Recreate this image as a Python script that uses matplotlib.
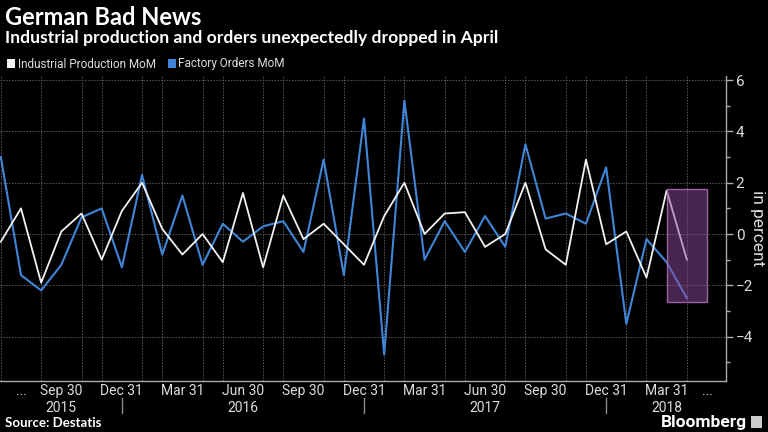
import matplotlib.pyplot as plt
from matplotlib import font_manager
from matplotlib.patches import Patch, Rectangle
from matplotlib.transforms import blended_transform_factory

# monthly % change, Jun 2015 .. Apr 2018
months = list(range(35))
industrial_production = [-0.3, 1.0, -1.9, 0.1, 0.8, -1.0, 0.9, 2.0, 0.2, -0.8,
                         0.0, -1.1, 1.6, -1.3, 1.5, -0.2, 0.4, -0.4, -1.2, 0.7,
                         2.0, 0.0, 0.8, 0.85, -0.5, 0.0, 2.0, -0.6, -1.2, 2.9,
                         -0.4, 0.1, -1.7, 1.7, -1.0]
factory_orders = [3.0, -1.6, -2.2, -1.2, 0.65, 1.0, -1.3, 2.3, -0.8, 1.5,
                  -1.2, 0.4, -0.3, 0.3, 0.5, -0.7, 2.9, -1.6, 4.5, -4.7,
                  5.2, -1.0, 0.5, -0.7, 0.7, -0.5, 3.5, 0.6, 0.8, 0.4,
                  2.6, -3.5, -0.2, -1.1, -2.5]

tick_pos = [1, 3, 6, 9, 12, 15, 18, 21, 24, 27, 30, 33, 35]
tick_labels = ["...", "Sep 30", "Dec 31", "Mar 31", "Jun 30", "Sep 30", "Dec 31",
               "Mar 31", "Jun 30", "Sep 30", "Dec 31", "Mar 31", "..."]
year_pos = [3, 12, 24, 33]
year_labels = ["2015", "2016", "2017", "2018"]
year_breaks = [6, 18, 30]
highlight = (33, 35, -2.65, 1.75)  # x0, x1, y0, y1


def pick(*names):
    have = {f.name for f in font_manager.fontManager.ttflist}
    return [n for n in names if n in have] + ["DejaVu Sans"]


narrow = pick("Liberation Sans Narrow", "Roboto", "Liberation Sans")
bold = pick("Lato", "Open Sans")

WHITE = "#f2f2f2"
BLUE = "#3f86d8"
GRID = "#5a5a5a"

fig = plt.figure(figsize=(7.68, 4.32), dpi=100, facecolor="black")
ax = fig.add_axes([0, 51 / 432, 726 / 768, 305 / 432], facecolor="black")

ax.plot(months, industrial_production, color=WHITE, lw=1.3, zorder=3)
ax.plot(months, factory_orders, color=BLUE, lw=1.5, zorder=2)

x0, x1, y0, y1 = highlight
ax.add_patch(Rectangle((x0, y0), x1 - x0, y1 - y0, facecolor="#8e4a9c",
                       alpha=0.5, edgecolor="none", zorder=4))
ax.add_patch(Rectangle((x0, y0), x1 - x0, y1 - y0, facecolor="none",
                       edgecolor="#9a62a2", lw=1.0, zorder=5))

ax.set_xlim(-0.04, 35.94)
ax.set_ylim(-5.73, 6.16)

ax.set_xticks(tick_pos, tick_labels)
ax.set_xticks(range(36), minor=True)
ax.set_yticks([-4, -2, 0, 2, 4, 6])
ax.set_yticks([-5, -3, -1, 1, 3, 5], minor=True)
ax.grid(which="minor", axis="x", color=GRID, ls=(0, (1.5, 1.5)), lw=0.7)
ax.grid(which="major", axis="y", color=GRID, ls=(0, (1.5, 1.5)), lw=0.7)
ax.set_axisbelow(True)

ax.yaxis.tick_right()
ax.yaxis.set_label_position("right")
ax.tick_params(axis="x", which="both", length=0, pad=2, colors="#dddddd",
               labelsize=10)
ax.tick_params(axis="y", which="major", length=5, width=1, color="#aaaaaa",
               labelcolor="#dddddd", labelsize=11, pad=2)
ax.tick_params(axis="y", which="minor", length=3, width=1, color="#aaaaaa")
for lab in ax.get_xticklabels() + ax.get_yticklabels():
    lab.set_family(narrow)

for side in ["top", "left"]:
    ax.spines[side].set_visible(False)
for side in ["right", "bottom"]:
    ax.spines[side].set_color("#aaaaaa")
    ax.spines[side].set_linewidth(1)

ax.set_ylabel("in percent", rotation=270, color="#dddddd", fontsize=12.5,
              family=narrow, va="center")
ax.yaxis.set_label_coords(757 / 726, 0.5)

tr = blended_transform_factory(ax.transData, ax.transAxes)
for x, lab in zip(year_pos, year_labels):
    ax.text(x, -0.088, lab, transform=tr, ha="center", va="center",
            color="#dddddd", fontsize=10, family=narrow)
for x in year_breaks:
    ax.plot([x, x], [-0.056, -0.105], transform=tr, color="#888888", lw=1,
            clip_on=False)

fig.text(5 / 768, 1 - 25 / 432, "German Bad News", color="white",
         fontsize=17, fontweight="bold", family=bold, va="baseline")
fig.text(5 / 768, 1 - 43 / 432,
         "Industrial production and orders unexpectedly dropped in April",
         color="white", fontsize=12.6, fontweight="bold", family=bold,
         va="baseline")

handles = [Patch(facecolor=WHITE, edgecolor="none"),
           Patch(facecolor=BLUE, edgecolor="none")]
leg = fig.legend(handles, ["Industrial Production MoM", "Factory Orders MoM"],
                 loc="center left", bbox_to_anchor=(0, 1 - 64 / 432), ncol=2,
                 frameon=False, handlelength=0.7, handleheight=0.7,
                 handletextpad=0.2, columnspacing=1.0, borderaxespad=0.2,
                 prop={"family": narrow, "size": 8.5})
for t in leg.get_texts():
    t.set_color("#dddddd")

fig.text(5 / 768, 1 - 423 / 432, "Source: Destatis", color="white",
         fontsize=9.5, fontweight="bold", family=bold, va="center")
fig.text(747 / 768, 1 - 422 / 432, "Bloomberg", color="white", fontsize=12.5,
         fontweight="bold", family=narrow, va="center", ha="right")
fig.patches.append(Rectangle((751 / 768, 1 - 428 / 432), 11 / 768, 12 / 432,
                             transform=fig.transFigure, facecolor="#cccccc",
                             edgecolor="none"))

fig.savefig("out.png", dpi=100, facecolor="black")
